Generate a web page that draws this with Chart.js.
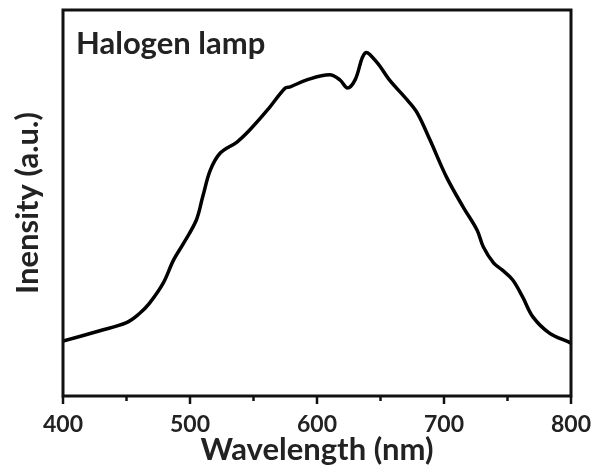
<!DOCTYPE html>
<html>
<head>
<meta charset="utf-8">
<script src="https://cdn.jsdelivr.net/npm/chart.js@4"></script>
<style>
  html, body { margin: 0; padding: 0; background: #fff; }
  #wrap { width: 597px; height: 469px; }
</style>
</head>
<body>
<div id="wrap"><canvas id="chart"></canvas></div>
<script>
// valores
const comprimentos = [400, 429, 450, 460, 468, 479, 487, 495, 505, 510, 516, 524, 537, 547, 561, 575, 579, 592, 610, 618, 624, 630, 638, 647, 657, 671, 679, 689, 702, 715, 726, 731, 739, 746, 754, 762, 770, 783, 798, 800];
const intensidade = [14.2, 16.9, 19.0, 21.3, 24.0, 29.3, 35.2, 39.6, 45.6, 51.6, 58.5, 63.0, 65.8, 68.9, 74.1, 79.8, 80.1, 81.9, 83.2, 81.9, 79.8, 81.9, 88.9, 86.5, 81.9, 76.7, 73.3, 66.3, 56.7, 49.0, 43.0, 38.6, 34.5, 32.6, 30.1, 25.6, 20.5, 16.3, 14.0, 13.7];
const ticksMaiores = [400, 500, 600, 700, 800];
const ticksMenores = [450, 550, 650, 750];
const rotulo = "Halogen lamp";

const fonte = "Lato";

// moldura, marcas do eixo x e rótulo interno
const molduraPlugin = {
	id: "moldura",
	afterDraw(chart) {
		const { ctx, chartArea: a, scales } = chart;
		ctx.save();
		ctx.strokeStyle = "#111";
		ctx.lineWidth = 3;
		ctx.strokeRect(a.left, a.top, a.right - a.left, a.bottom - a.top);

		ctx.lineWidth = 2.5;
		ticksMaiores.forEach((v) => {
			const x = scales.x.getPixelForValue(v);
			ctx.beginPath();
			ctx.moveTo(x, a.bottom);
			ctx.lineTo(x, a.bottom + 8);
			ctx.stroke();
		});
		ticksMenores.forEach((v) => {
			const x = scales.x.getPixelForValue(v);
			ctx.beginPath();
			ctx.moveTo(x, a.bottom);
			ctx.lineTo(x, a.bottom + 5);
			ctx.stroke();
		});

		ctx.fillStyle = "#222";
		ctx.font = "bold 31px " + fonte;
		ctx.textBaseline = "alphabetic";
		ctx.fillText(rotulo, a.left + 13, a.top + 44);
		ctx.restore();
	}
};

const ctx = document.getElementById("chart").getContext("2d");
new Chart(ctx, {
	type: "line",
	data: {
		datasets: [
			{
				data: comprimentos.map((x, i) => ({ x, y: intensidade[i] })),
				borderColor: "#000",
				borderWidth: 3.5,
				pointRadius: 0,
				tension: 0.35,
				fill: false
			}
		]
	},
	options: {
		responsive: true,
		maintainAspectRatio: false,
		animation: false,
		layout: { padding: { top: 10, right: 26, left: 0, bottom: 0 } },
		plugins: { legend: { display: false }, tooltip: { enabled: false } },
		scales: {
			x: {
				type: "linear",
				min: 400,
				max: 800,
				afterFit: (s) => {
					s.height = 73;
					s.paddingLeft = 0;
					s.paddingRight = 0;
				},
				afterBuildTicks: (s) => { s.ticks = ticksMaiores.map((v) => ({ value: v })); },
				grid: { display: false, drawTicks: false },
				border: { display: false },
				ticks: {
					color: "#222",
					padding: 15,
					font: { family: fonte, size: 23, weight: "bold" }
				},
				title: {
					display: true,
					text: "Wavelength (nm)",
					color: "#222",
					padding: { top: 0, bottom: 0 },
					font: { family: fonte, size: 31, weight: "bold" }
				}
			},
			y: {
				min: 0,
				max: 100,
				afterFit: (s) => { s.width = 63; },
				grid: { display: false, drawTicks: false },
				border: { display: false },
				ticks: { display: false },
				title: {
					display: true,
					text: "Inensity (a.u.)",
					color: "#222",
					padding: { top: 9, bottom: 0 },
					font: { family: fonte, size: 31, weight: "bold" }
				}
			}
		}
	},
	plugins: [molduraPlugin]
});
</script>
</body>
</html>
